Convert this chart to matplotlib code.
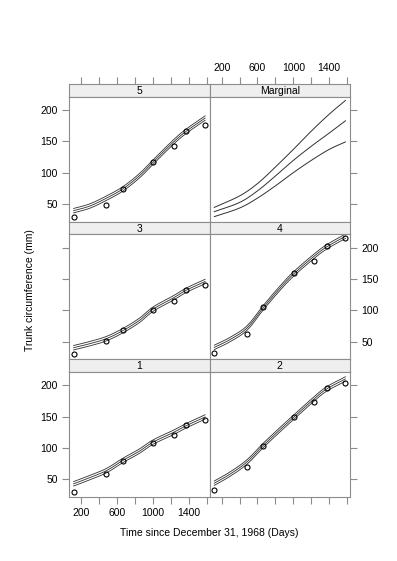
import matplotlib
matplotlib.use("Agg")
import matplotlib.pyplot as plt
import numpy as np

plt.rcParams['font.family'] = ['Liberation Sans', 'DejaVu Sans']

# observed ages (days) and trunk circumference per tree
ages = [118, 484, 664, 1004, 1231, 1372, 1582]
tree1 = [30, 58, 79, 108, 120, 136, 145]
tree2 = [33, 69, 103, 150, 173, 196, 204]
tree3 = [30, 51, 68, 101, 115, 132, 140]
tree4 = [32, 62, 105, 160, 179, 202, 215]
tree5 = [30, 48, 74, 117, 142, 166, 176]

# fitted curves and band half-width
fit_days = [118, 300, 484, 664, 850, 1004, 1231, 1372, 1582]
fit1 = [43, 53, 64, 80, 95, 109.5, 125, 135.5, 149.5]
fit2 = [44, 59, 78, 104, 129, 149, 178, 194, 210]
fit3 = [40.5, 47, 55, 67.5, 84, 102, 120, 132, 146]
fit4 = [41, 54, 72, 104, 135, 158, 186, 201, 218]
fit5 = [39.5, 47, 59.5, 74, 95, 117, 149, 166, 187]
band = 3.5

# marginal (population) curve with its band
marg_days = [118, 400, 600, 800, 1000, 1200, 1400, 1582]
marg_hi = [44.7, 63, 82.6, 109, 137, 166, 193, 215]
marg_mid = [37.9, 52.6, 71, 94.7, 119.5, 142, 163, 182.6]
marg_lo = [30, 43.7, 59.5, 79, 100, 119.5, 137, 149]

xticks = [200, 400, 600, 800, 1000, 1200, 1400, 1600]
xlabels = ['200', '', '600', '', '1000', '', '1400', '']
yticks = [50, 100, 150, 200]


def smooth(xs, ys, n=12):
    # catmull-rom curve through the read points, for drawing only
    x = np.asarray(xs, float)
    y = np.asarray(ys, float)
    px = np.concatenate([[2 * x[0] - x[1]], x, [2 * x[-1] - x[-2]]])
    py = np.concatenate([[2 * y[0] - y[1]], y, [2 * y[-1] - y[-2]]])
    ox, oy = [], []
    t = np.linspace(0, 1, n, endpoint=False)
    for i in range(1, len(px) - 2):
        for p, o in ((px, ox), (py, oy)):
            p0, p1, p2, p3 = p[i - 1], p[i], p[i + 1], p[i + 2]
            o.extend(0.5 * (2 * p1 + (-p0 + p2) * t + (2 * p0 - 5 * p1 + 4 * p2 - p3) * t ** 2
                            + (-p0 + 3 * p1 - 3 * p2 + p3) * t ** 3))
    ox.append(x[-1])
    oy.append(y[-1])
    return np.array(ox), np.array(oy)


W, H = 397, 561
fig = plt.figure(figsize=(W / 100, H / 100), dpi=100)

frame = '#8c8c8c'
linec = '#303030'
left, mid, right = 69, 209.7, 350
top, row_h, strip_h = 84, 413 / 3, 12.7
xlim = (66.8, 1633.2)
ylim = (22, 221)

panels = [
    # (label, row, col, data, fit)
    ('5', 0, 0, tree5, fit5),
    ('Marginal', 0, 1, None, None),
    ('3', 1, 0, tree3, fit3),
    ('4', 1, 1, tree4, fit4),
    ('1', 2, 0, tree1, fit1),
    ('2', 2, 1, tree2, fit2),
]

fs = 7.5
for lab, r, c, obs, fit in panels:
    x0 = left if c == 0 else mid
    x1 = mid if c == 0 else right
    ytop = top + r * row_h
    # strip
    sax = fig.add_axes([x0 / W, 1 - (ytop + strip_h) / H, (x1 - x0) / W, strip_h / H])
    sax.set_facecolor('#efefef')
    sax.set_xlim(*xlim)
    sax.set_yticks([])
    for s in sax.spines.values():
        s.set_color(frame)
        s.set_linewidth(0.8)
    sax.text(0.5, 0.45, lab, ha='center', va='center', fontsize=fs, transform=sax.transAxes)
    if r == 0:
        sax.set_xticks(xticks)
        sax.set_xticklabels(xlabels)
        sax.tick_params(axis='x', direction='out', length=5, width=0.8, color=frame,
                        labelsize=fs, pad=3, top=True, bottom=False,
                        labeltop=(c == 1), labelbottom=False)
    else:
        sax.set_xticks([])
    # panel
    ax = fig.add_axes([x0 / W, 1 - (ytop + row_h) / H, (x1 - x0) / W, (row_h - strip_h) / H])
    ax.set_xlim(*xlim)
    ax.set_ylim(*ylim)
    for s in ax.spines.values():
        s.set_color(frame)
        s.set_linewidth(0.8)
    if obs is None:
        for curve in (marg_hi, marg_mid, marg_lo):
            sx, sy = smooth(marg_days, curve)
            ax.plot(sx, sy, color=linec, lw=0.7)
    else:
        f = np.array(fit)
        for off in (band, 0, -band):
            sx, sy = smooth(fit_days, f + off)
            ax.plot(sx, sy, color=linec, lw=0.6)
        ax.plot(ages, obs, 'o', mfc='none', mec='black', ms=3.6, mew=0.8)

    ax.set_xticks(xticks)
    ax.set_yticks(yticks)
    ax.tick_params(direction='out', length=5, width=0.8, color=frame, labelsize=fs, pad=3)
    if r == 2:
        ax.tick_params(axis='x', top=False, bottom=True, labeltop=False, labelbottom=(c == 0))
    else:
        ax.tick_params(axis='x', top=False, bottom=False, labeltop=False, labelbottom=False)
    ax.set_xticklabels(xlabels)
    if c == 0:
        ax.tick_params(axis='y', left=True, right=False, labelleft=(r != 1), labelright=False)
    else:
        ax.tick_params(axis='y', left=False, right=True, labelleft=False, labelright=(r == 1))

fig.text(30 / W, 1 - 290 / H, 'Trunk circumference (mm)', rotation=90,
         ha='center', va='center', fontsize=fs)
fig.text(209 / W, 1 - 533 / H, 'Time since December 31, 1968 (Days)',
         ha='center', va='center', fontsize=fs)

fig.savefig('out.png', dpi=100)
